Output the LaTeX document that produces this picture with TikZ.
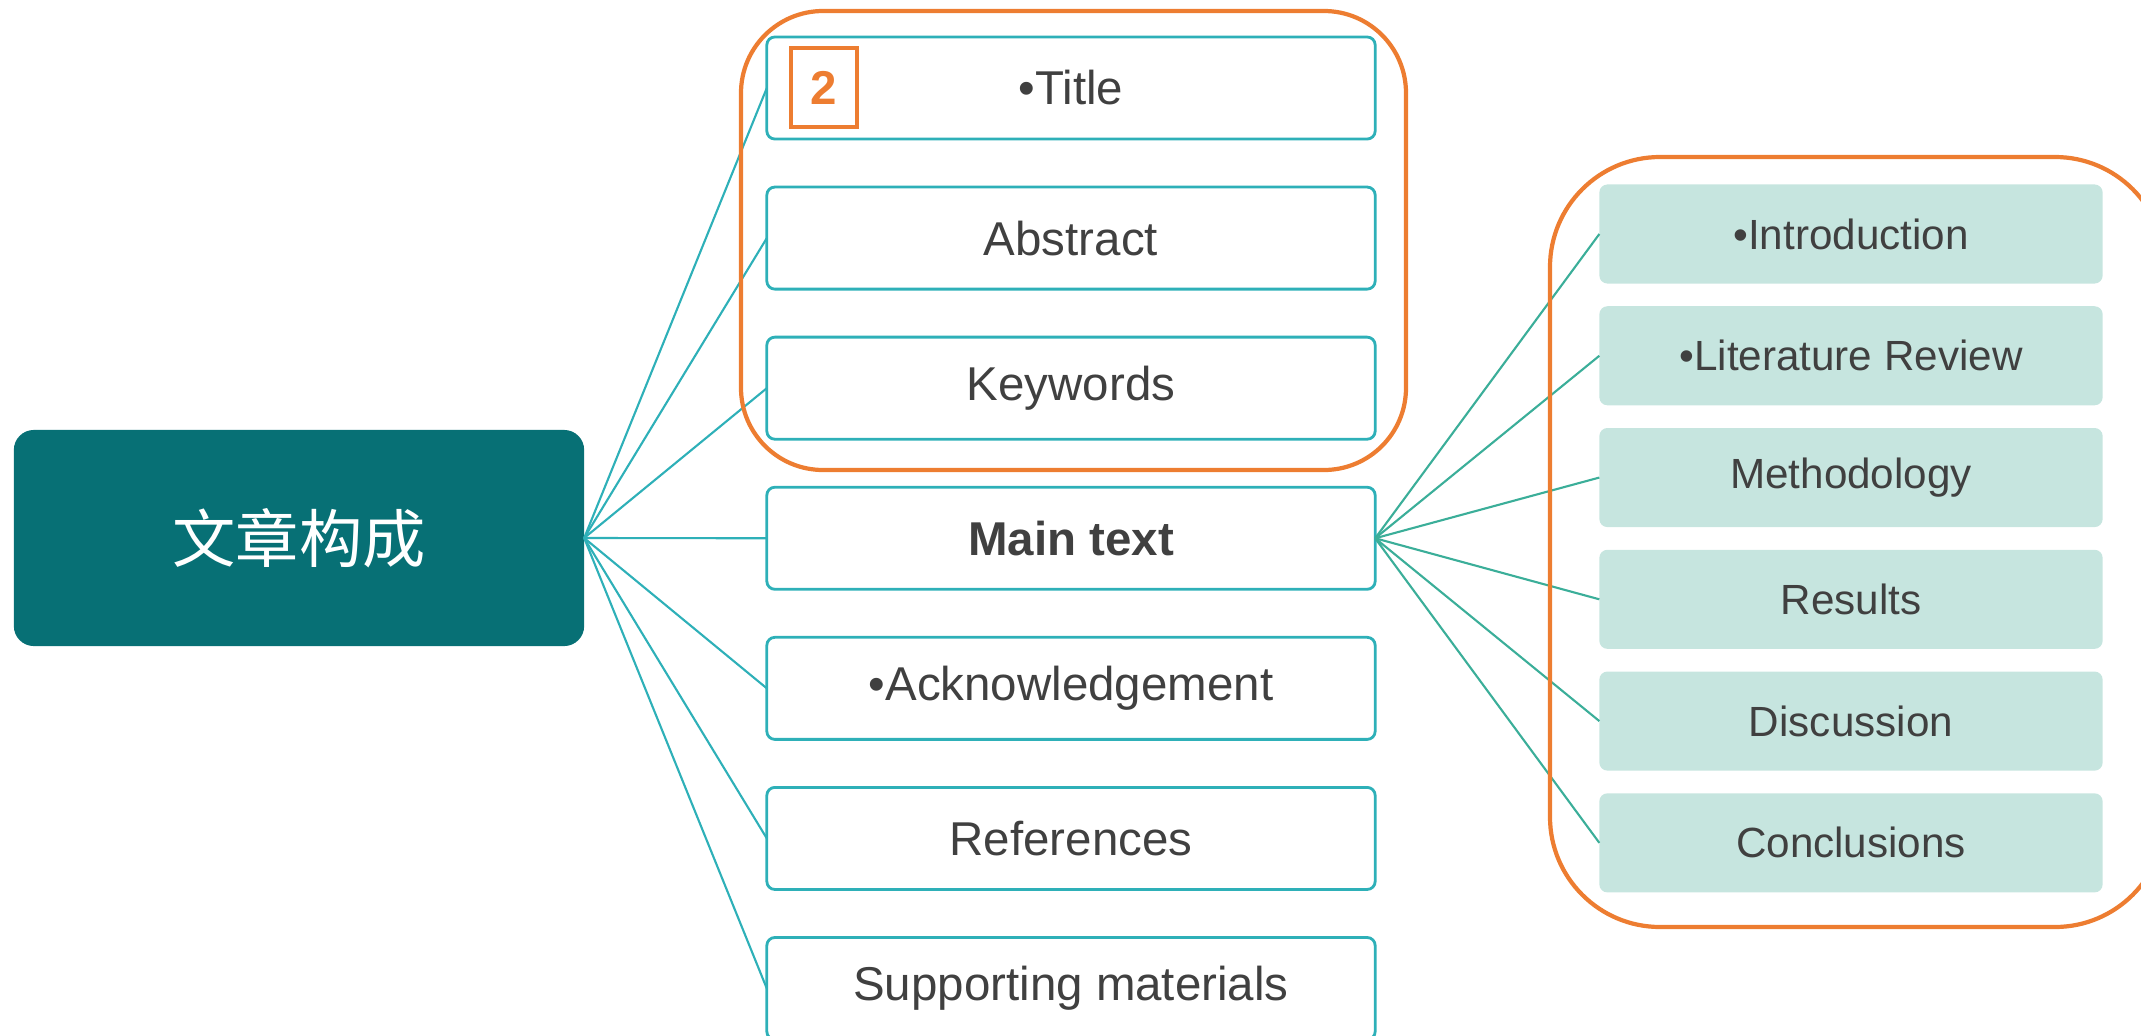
\documentclass[tikz,border=0pt]{standalone}
\usepackage{fontspec}
\setmainfont{Liberation Sans}
\newfontfamily\cjk{Noto Sans CJK SC}
\usetikzlibrary{positioning}

\definecolor{rootteal}{HTML}{077075}
\definecolor{edgeteal}{HTML}{2EB0B8}
\definecolor{linkgreen}{HTML}{3BAE99}
\definecolor{subfill}{HTML}{C6E5DF}
\definecolor{frameorange}{HTML}{ED7D31}
\definecolor{textgray}{HTML}{404040}

\begin{document}
\begin{tikzpicture}[x=0.01cm, y=-0.01cm,
    part/.style={rectangle, draw=edgeteal, line width=0.8pt, rounded corners=0.08cm, minimum width=6.08cm, minimum height=1.02cm, inner sep=0pt, outer sep=0pt, text=textgray, font=\fontsize{13.5}{16}\selectfont},
    sect/.style={rectangle, fill=subfill, rounded corners=0.08cm, minimum width=5.03cm, minimum height=0.99cm, inner sep=0pt, outer sep=0pt, text=textgray, font=\fontsize{12}{14}\selectfont},
    link/.style={draw=edgeteal, line width=0.6pt},
    sublink/.style={draw=linkgreen, line width=0.6pt},
    frame/.style={draw=frameorange, line width=1.2pt}]
      \useasboundingbox (0,0) rectangle (2141,1036);

      % root
      \node[rectangle, fill=rootteal, rounded corners=0.2cm, minimum width=5.7cm, minimum height=2.16cm, outer sep=0pt, text=white, font=\cjk\fontsize{18}{22}\selectfont] (root) at (299,538) {文章构成};

      % parts of the paper
      \node[part] (title) at (1071,88) {•Title};
      \node[part, below=0.48cm of title] (abstract) {Abstract};
      \node[part, below=0.48cm of abstract] (keywords) {Keywords};
      \node[part, below=0.48cm of keywords] (main) {\textbf{Main text}};
      \node[part, below=0.48cm of main] (ack) {•Acknowledgement};
      \node[part, below=0.48cm of ack] (refs) {References};
      \node[part, below=0.48cm of refs] (supp) {Supporting materials};

      % sections of the main text
      \node[sect] (intro) at (1851,234) {•Introduction};
      \node[sect, below=0.227cm of intro] (litrev) {•Literature Review};
      \node[sect, below=0.227cm of litrev] (method) {Methodology};
      \node[sect, below=0.227cm of method] (results) {Results};
      \node[sect, below=0.227cm of results] (discuss) {Discussion};
      \node[sect, below=0.227cm of discuss] (concl) {Conclusions};

      % connectors
      \foreach \n in {title,abstract,keywords,main,ack,refs,supp}
        \draw[link] (root.east) -- (\n.west);
      \foreach \n in {intro,litrev,method,results,discuss,concl}
        \draw[sublink] (main.east) -- (\n.west);

      % orange frames
      \draw[frame, rounded corners=0.82cm] (741,11) rectangle (1406,470);
      \draw[frame, rounded corners=1.1cm] (1550,157) rectangle (2165,927);
      \node[draw=frameorange, line width=1pt, minimum width=0.66cm, minimum height=0.79cm, inner sep=0pt, text=frameorange, font=\bfseries\fontsize{13.5}{16}\selectfont] (num) at (824,87.5) {2};
    \end{tikzpicture}
\end{document}
